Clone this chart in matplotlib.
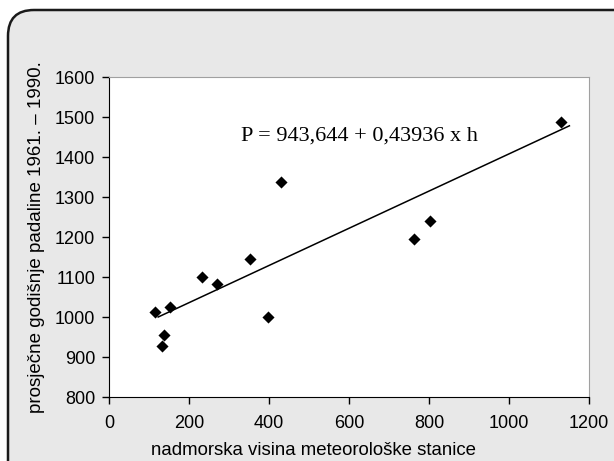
import matplotlib.pyplot as plt
from matplotlib.patches import FancyBboxPatch

# station altitude (m) and mean annual precipitation 1961-1990 (mm)
altitude = [115, 153, 137, 132.5, 232, 269, 353, 397, 430, 762.5, 802, 1131]
precip = [1012, 1026, 956, 927.5, 1099, 1082, 1145, 1001, 1337, 1194, 1239, 1487]

# regression line as drawn in the original
trend_x = [123, 1151]
trend_y = [1000, 1478]

x_ticks = [0, 200, 400, 600, 800, 1000, 1200]
y_ticks = [800, 900, 1000, 1100, 1200, 1300, 1400, 1500, 1600]

equation = "P = 943,644 + 0,43936 x h"
x_label = "nadmorska visina meteorološke stanice"
y_label = "prosječne godišnje padaline 1961. – 1990."

plt.rcParams["font.family"] = ["Liberation Sans", "DejaVu Sans"]

fig = plt.figure(figsize=(6.14, 4.61), dpi=100)
fig.patch.set_facecolor("white")

# rounded grey panel behind the chart (pixel coords, origin bottom-left)
panel = FancyBboxPatch(
    (8, 461 - 10 - 480), 640, 480,
    boxstyle="round,pad=0,rounding_size=26",
    transform=None, facecolor="#e8e8e8", edgecolor="#1a1a1a", linewidth=1.8,
    zorder=-1,
)
fig.patches.append(panel)

ax = fig.add_axes([109 / 614, 1 - 397 / 461, 480 / 614, 320 / 461])
ax.set_facecolor("white")

ax.scatter(altitude, precip, marker="D", s=38, color="black", zorder=3, linewidths=0)
ax.plot(trend_x, trend_y, color="black", linewidth=1.1, zorder=2)

ax.set_xlim(0, 1200)
ax.set_ylim(800, 1600)
ax.set_xticks(x_ticks)
ax.set_yticks(y_ticks)
ax.tick_params(direction="out", length=5, width=1, labelsize=13, pad=5, colors="black")
ax.tick_params(axis="x", pad=8)

for side in ("top", "right"):
    ax.spines[side].set_color("#a0a0a0")
for side in ("left", "bottom"):
    ax.spines[side].set_color("black")

ax.set_xlabel(x_label, fontsize=13.4)
ax.xaxis.set_label_coords(0.427, -0.14)
ax.set_ylabel(y_label, fontsize=13.5, labelpad=7)

ax.text(330, 1440, equation, family=["Liberation Serif", "DejaVu Serif"], fontsize=16, va="baseline")

fig.savefig("out.png", dpi=100, facecolor=fig.get_facecolor())
